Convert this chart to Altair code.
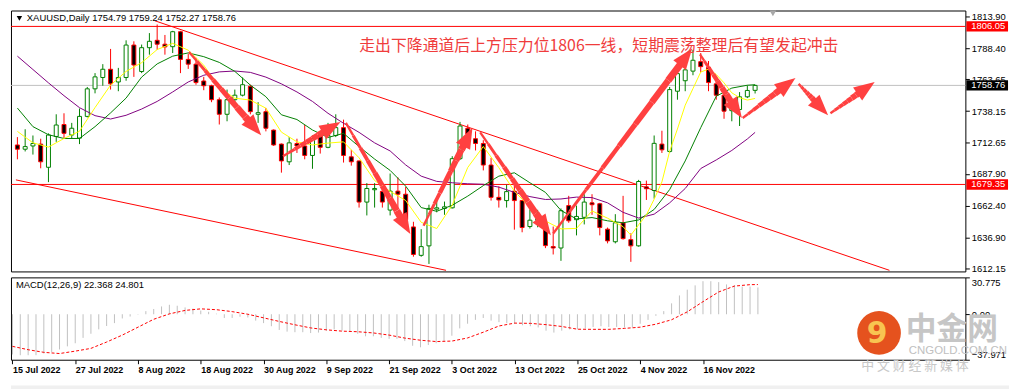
import math
import altair as alt
import pandas as pd

# ---------------- data ----------------
tick_dates = ["15 Jul 2022", "27 Jul 2022", "8 Aug 2022", "18 Aug 2022", "30 Aug 2022",
              "9 Sep 2022", "21 Sep 2022", "3 Oct 2022", "13 Oct 2022", "25 Oct 2022",
              "4 Nov 2022", "16 Nov 2022"]

opens = [1711.0, 1707.6, 1710.2, 1711.7, 1693.1, 1717.8, 1727.4, 1719.0, 1716.5, 1733.9,
         1756.0, 1765.1, 1771.7, 1761.5, 1765.1, 1791.1, 1769.9, 1789.0, 1794.9, 1791.8,
         1789.8, 1801.8, 1779.6, 1775.8, 1762.3, 1758.5, 1747.3, 1735.6, 1747.3, 1750.9,
         1758.0, 1735.6, 1737.7, 1722.9, 1711.7, 1697.5, 1712.2, 1710.2, 1702.6, 1718.6,
         1709.1, 1718.6, 1724.9, 1701.5, 1698.2, 1665.2, 1675.1, 1673.8, 1658.8, 1674.0,
         1671.5, 1645.3, 1622.5, 1630.1, 1659.5, 1660.1, 1660.6, 1700.0, 1724.4, 1716.0,
         1712.2, 1694.9, 1669.0, 1666.4, 1674.0, 1666.4, 1645.6, 1650.5, 1647.9, 1629.5,
         1628.4, 1662.4, 1651.1, 1653.0, 1664.6, 1663.9, 1643.5, 1633.4, 1648.6, 1635.1,
         1630.1, 1677.4, 1674.5, 1711.7, 1705.8, 1754.1, 1762.5, 1770.2, 1777.8, 1773.2,
         1760.0, 1750.9, 1738.5, 1739.4, 1749.6, 1754.79]
highs = [1717.3, 1723.6, 1718.6, 1716.0, 1720.3, 1735.6, 1736.4, 1728.7, 1740.2, 1757.5,
         1768.6, 1775.8, 1788.0, 1772.8, 1794.9, 1794.1, 1791.5, 1800.7, 1807.6, 1799.2,
         1802.5, 1802.5, 1783.9, 1780.9, 1765.6, 1759.3, 1749.1, 1755.4, 1755.4, 1765.1,
         1759.3, 1745.3, 1740.7, 1723.5, 1712.2, 1717.3, 1716.0, 1727.0, 1718.6, 1720.3,
         1728.7, 1735.6, 1731.3, 1707.1, 1698.5, 1680.4, 1680.4, 1677.1, 1688.1, 1685.0,
         1677.4, 1649.4, 1643.5, 1663.1, 1667.2, 1665.6, 1702.0, 1729.5, 1727.4, 1721.9,
         1714.8, 1700.7, 1677.8, 1679.1, 1679.1, 1666.9, 1659.3, 1659.0, 1652.4, 1645.6,
         1660.1, 1670.2, 1662.4, 1671.5, 1671.5, 1664.6, 1644.8, 1655.5, 1670.2, 1640.2,
         1683.0, 1682.4, 1718.6, 1722.4, 1757.5, 1774.5, 1774.5, 1787.3, 1784.7, 1778.3,
         1761.8, 1751.6, 1746.0, 1753.4, 1758.7, 1759.24]
lows = [1699.5, 1705.8, 1703.3, 1692.3, 1681.2, 1713.5, 1716.0, 1716.0, 1711.7, 1733.1,
        1752.4, 1758.5, 1755.4, 1754.1, 1762.5, 1765.6, 1768.6, 1783.4, 1787.3, 1783.4,
        1784.7, 1768.6, 1772.0, 1759.3, 1754.9, 1745.3, 1727.4, 1730.0, 1742.7, 1749.9,
        1735.6, 1728.7, 1721.9, 1710.2, 1688.8, 1694.9, 1704.6, 1699.5, 1691.9, 1704.1,
        1708.4, 1717.3, 1696.9, 1694.4, 1660.8, 1654.5, 1660.8, 1660.8, 1654.5, 1660.1,
        1647.3, 1621.4, 1621.4, 1615.6, 1657.0, 1655.0, 1660.1, 1699.0, 1716.0, 1706.6,
        1690.6, 1666.4, 1660.8, 1660.8, 1643.1, 1641.0, 1644.0, 1645.0, 1628.3, 1623.2,
        1618.1, 1648.6, 1638.5, 1647.3, 1655.0, 1638.5, 1632.1, 1632.1, 1635.1, 1617.3,
        1629.5, 1666.9, 1668.0, 1704.6, 1704.6, 1747.3, 1754.1, 1766.9, 1769.4, 1754.1,
        1747.3, 1732.0, 1730.0, 1726.2, 1748.6, 1752.27]
closes = [1707.6, 1709.7, 1712.2, 1697.5, 1719.0, 1727.0, 1720.3, 1724.4, 1733.9, 1756.0,
          1765.6, 1771.7, 1760.0, 1765.1, 1791.1, 1775.1, 1789.0, 1794.1, 1791.8, 1789.6,
          1801.8, 1779.6, 1775.8, 1761.0, 1758.5, 1747.3, 1735.6, 1747.3, 1750.9, 1759.3,
          1737.7, 1736.9, 1724.4, 1711.0, 1698.2, 1712.7, 1710.2, 1702.6, 1716.0, 1709.1,
          1718.6, 1724.9, 1702.6, 1697.5, 1665.2, 1676.1, 1676.1, 1665.2, 1674.0, 1671.5,
          1651.1, 1623.2, 1629.5, 1660.1, 1660.6, 1661.4, 1700.0, 1726.2, 1719.8, 1712.2,
          1694.9, 1669.0, 1666.9, 1673.6, 1666.4, 1644.8, 1650.7, 1652.0, 1630.3, 1628.4,
          1658.3, 1650.2, 1653.7, 1665.2, 1663.1, 1644.8, 1634.1, 1648.6, 1635.9, 1630.1,
          1681.7, 1675.9, 1712.3, 1707.1, 1755.4, 1768.2, 1771.2, 1778.9, 1773.8, 1761.0,
          1750.9, 1738.1, 1740.3, 1749.6, 1754.7, 1758.76]

# moving averages
ma_idx = list(range(0, 96, 2)) + [95]
ma_purple = [1782.2, 1771.5, 1760.8, 1750.5, 1740.9, 1734.5, 1731.8, 1734.8, 1739.8, 1745.9,
             1753.5, 1761.5, 1766.9, 1769.6, 1770.3, 1769.2, 1765.4, 1760.0, 1753.5, 1745.9,
             1736.4, 1728.4, 1721.1, 1712.7, 1706.2, 1695.0, 1686.0, 1681.8, 1680.7, 1679.9,
             1679.5, 1677.2, 1673.0, 1669.6, 1667.3, 1667.7, 1669.2, 1668.8, 1664.6, 1657.0,
             1652.4, 1655.5, 1664.6, 1676.1, 1692.1, 1699.0, 1706.6, 1715.8, 1721.1]
ma_green = [1740.6, 1725.7, 1719.2, 1716.2, 1716.2, 1725.7, 1736.7, 1748.6, 1765.4, 1776.0,
            1782.2, 1784.8, 1781.8, 1777.2, 1770.0, 1759.0, 1749.7, 1735.2, 1731.4, 1723.0,
            1717.0, 1720.3, 1709.7, 1699.7, 1690.6, 1678.0, 1660.8, 1657.8, 1662.7, 1670.0,
            1678.4, 1686.0, 1688.7, 1680.7, 1673.0, 1658.5, 1651.7, 1652.8, 1650.2, 1648.6,
            1650.9, 1659.3, 1675.3, 1698.2, 1724.9, 1750.1, 1756.6, 1758.9, 1759.3]
y_idx = list(range(0, 80, 2)) + list(range(79, 96))
ma_yellow = [1721.9, 1712.7, 1709.3, 1716.2, 1722.0, 1741.0, 1759.0, 1770.0, 1777.0, 1787.5,
             1792.5, 1787.0, 1775.0, 1757.0, 1748.5, 1747.0, 1740.5, 1721.3, 1713.5, 1711.0,
             1712.5, 1713.5, 1700.7, 1682.5, 1673.8, 1666.5, 1649.0, 1644.0, 1662.8, 1693.0,
             1709.8, 1692.8, 1674.0, 1661.0, 1650.0, 1643.7, 1644.1, 1658.1, 1652.3, 1645.5,
             1638.7, 1647.0, 1655.0, 1667.5, 1681.4, 1706.0, 1723.8, 1742.9, 1756.2, 1769.5,
             1771.8, 1767.5, 1760.8, 1752.8, 1749.0, 1747.0, 1748.3]

# MACD histogram (one per bar) and signal line
macd_hist = [-33.6, -34.2, -34.2, -34.2, -32.8, -31.5, -29.4, -26.8, -24.2, -19.7,
             -16.3, -12.6, -9.8, -7.4, -3.5, -1.9, -0.3, 2.6, 4.4, 6.5,
             7.9, 7.1, 5.7, 4.7, 3.1, 2.0, 0.5, -3.1, -3.1, -2.1,
             -2.7, -5.3, -7.4, -10.0, -13.1, -14.5, -15.0, -15.0, -15.7, -15.3,
             -13.7, -12.6, -13.7, -14.5, -16.3, -18.4, -18.4, -19.7, -20.5, -20.5,
             -22.4, -26.3, -27.6, -25.7, -24.2, -22.4, -17.9, -11.8, -7.9, -4.7,
             -3.1, -5.3, -6.6, -7.4, -7.9, -9.2, -10.0, -11.0, -13.7, -15.3,
             -13.7, -12.6, -12.6, -11.8, -10.6, -10.0, -10.6, -10.6, -11.0, -11.0,
             -7.9, -4.7, -1.3, 2.6, 9.1, 15.7, 20.5, 24.1, 27.6, 27.6,
             26.8, 24.9, 24.1, 23.1, 23.1, 22.368]
macd_signal = [-26.8, -29.6, -31.8, -32.8, -30.8, -28.5, -23.2, -17.4, -10.8, -4.2,
               0.3, 3.2, 4.5, 3.8, 2.2, 0.0, -3.0, -6.0, -8.8, -11.4,
               -13.0, -14.1, -14.6, -15.6, -17.4, -19.9, -21.7, -22.8, -22.4, -19.8,
               -15.0, -9.8, -7.4, -7.6, -8.7, -10.2, -12.5, -12.6, -12.6, -11.8,
               -10.8, -8.3, -4.6, 2.0, 10.5, 18.6, 23.5, 24.7, 24.8]

red_levels = [1806.05, 1679.35]
last_price = [1758.76]
price_ticks = [1813.90, 1788.40, 1763.65, 1738.15, 1712.65, 1687.90, 1662.40, 1636.90, 1612.15]
macd_ticks = [30.775, 0.0, -37.971]

chan_id = ["upper", "upper", "lower", "lower"]
chan_bar = [17.69, 112.3, -0.19, 55.2]
chan_price = [1810.6, 1610.5, 1683.0, 1610.5]

arrow_k0 = [22.1, 34.2, 42.3, 52.3, 59.6, 69.0, 87.9, 93.4, 100.6, 104.7]
arrow_p0 = [1785.5, 1702.0, 1728.7, 1646.3, 1721.1, 1640.0, 1783.7, 1732.6, 1760.0, 1736.4]
arrow_k1 = [31.4, 41.6, 50.6, 58.6, 68.7, 86.9, 93.3, 100.2, 104.4, 110.4]
arrow_p1 = [1718.8, 1729.5, 1639.6, 1724.9, 1638.7, 1788.3, 1732.6, 1764.6, 1734.8, 1761.5]

title_text = ["XAUUSD,Daily  1754.79 1759.24 1752.27 1758.76"]
note_text = ["走出下降通道后上方压力位1806一线，短期震荡整理后有望发起冲击"]
macd_text = ["MACD(12,26,9) 22.368 24.801"]

# ---------------- layout ----------------
W, H1, H2 = 962, 263, 83
XDOM = [-0.1875, 121.44]
PDOM = [1609.6, 1818.8]
MDOM = [-37.971, 30.775]
FONT = "Liberation Sans"
ARROW = "#ff4040"

xs = alt.Scale(domain=XDOM, nice=False, zero=False)
ps = alt.Scale(domain=PDOM, nice=False, zero=False)
ms = alt.Scale(domain=MDOM, nice=False, zero=False)

candles = pd.DataFrame({"bar": list(range(len(closes))), "open": opens, "high": highs,
                        "low": lows, "close": closes})
up = "datum.close >= datum.open"

price_axis = alt.Axis(orient="right", values=price_ticks, format=".2f", tickSize=4,
                      tickColor="black", domain=False, grid=False, labelFont=FONT,
                      labelFontSize=9.5, labelColor="black", labelPadding=2, title=None,
                      labelFlush=False, labelOverlap=False)

base = alt.Chart(candles)
wicks = base.mark_rule(clip=True, strokeWidth=1).encode(
    x=alt.X("bar:Q", scale=xs, axis=None),
    y=alt.Y("low:Q", scale=ps, axis=price_axis),
    y2=alt.Y2("high"),
    color=alt.condition(up, alt.value("#008000"), alt.value("#ff0000")),
)
bodies = base.mark_bar(clip=True, size=4, strokeWidth=1).encode(
    x=alt.X("bar:Q", scale=xs, axis=None),
    y=alt.Y("open:Q", scale=ps, axis=price_axis),
    y2=alt.Y2("close"),
    fill=alt.condition(up, alt.value("white"), alt.value("black")),
    stroke=alt.condition(up, alt.value("#008000"), alt.value("#ff0000")),
)

hl_red = alt.Chart(pd.DataFrame({"v": red_levels})).mark_rule(color="#ff0000", strokeWidth=1).encode(
    y=alt.Y("v:Q", scale=ps, axis=price_axis))
hl_gray = alt.Chart(pd.DataFrame({"v": last_price})).mark_rule(color="#c0c0c0", strokeWidth=1).encode(
    y=alt.Y("v:Q", scale=ps, axis=price_axis))

chan = alt.Chart(pd.DataFrame({"id": chan_id, "bar": chan_bar, "price": chan_price})).mark_line(
    clip=True, color="#ff0000", strokeWidth=1).encode(
    x=alt.X("bar:Q", scale=xs, axis=None), y=alt.Y("price:Q", scale=ps, axis=price_axis),
    detail="id:N")


def ma_layer(idx, vals, color):
    return alt.Chart(pd.DataFrame({"bar": idx, "v": vals})).mark_line(
        clip=True, color=color, strokeWidth=1).encode(
        x=alt.X("bar:Q", scale=xs, axis=None), y=alt.Y("v:Q", scale=ps, axis=price_axis))


purple = ma_layer(ma_idx, ma_purple, "#800080")
green = ma_layer(ma_idx, ma_green, "#008000")
yellow = ma_layer(y_idx, ma_yellow, "#ffff00")

# arrows: tapered shaft made of short segments + rotated triangular head
pxk = W / (XDOM[1] - XDOM[0])
pxp = H1 / (PDOM[1] - PDOM[0])
HEAD = 21
NSEG = 8
seg_rows, head_rows = [], []
for i, (a, b, c, d) in enumerate(zip(arrow_k0, arrow_p0, arrow_k1, arrow_p1)):
    dx = (c - a) * pxk
    dy = (d - b) * pxp
    L = math.hypot(dx, dy)
    ang = math.degrees(math.atan2(dx, dy)) % 360
    back = HEAD * 0.6
    ek = c - (dx / L) * back / pxk
    ep = d - (dy / L) * back / pxp
    for s in range(NSEG):
        t0, t1 = s / NSEG, (s + 1) / NSEG
        seg_rows.append({"bar": a + (ek - a) * t0, "price": b + (ep - b) * t0,
                         "bar2": a + (ek - a) * t1, "price2": b + (ep - b) * t1,
                         "w": 2.0 + 5.5 * (s + 0.5) / NSEG})
    head_rows.append({"bar": c, "price": d, "angle": ang})

shafts = alt.Chart(pd.DataFrame(seg_rows)).mark_rule(color=ARROW).encode(
    x=alt.X("bar:Q", scale=xs, axis=None), y=alt.Y("price:Q", scale=ps, axis=price_axis),
    x2="bar2:Q", y2="price2:Q",
    strokeWidth=alt.StrokeWidth("w:Q", scale=None, legend=None))
heads = alt.Chart(pd.DataFrame(head_rows)).mark_point(
    shape="M0,0L0.76,2L-0.76,2Z", filled=True, size=HEAD * HEAD, opacity=1,
    color=ARROW, strokeWidth=0).encode(
    x=alt.X("bar:Q", scale=xs, axis=None), y=alt.Y("price:Q", scale=ps, axis=price_axis),
    angle=alt.Angle("angle:Q", scale=None))

title = alt.Chart(pd.DataFrame({"t": title_text})).mark_text(
    align="left", baseline="middle", font=FONT, fontSize=9.5, color="black").encode(
    x=alt.value(16), y=alt.value(8), text="t:N")
tri = alt.Chart(pd.DataFrame({"t": title_text})).mark_point(
    shape="triangle-down", filled=True, size=30, color="black", opacity=1).encode(
    x=alt.value(8.5), y=alt.value(8))
shift_mark = alt.Chart(pd.DataFrame({"t": title_text})).mark_point(
    shape="triangle-down", filled=True, size=45, color="#a8a8a8", opacity=1).encode(
    x=alt.value(768), y=alt.value(3))
note = alt.Chart(pd.DataFrame({"t": note_text})).mark_text(
    align="left", baseline="middle", font="Noto Sans CJK SC", fontSize=16, color="#f03c3c").encode(
    x=alt.value(351), y=alt.value(36), text="t:N")

BOX = "M-1,-0.25L1,-0.25L1,0.25L-1,0.25Z"
box_red = alt.Chart(pd.DataFrame({"v": red_levels})).mark_point(
    shape=BOX, filled=True, size=42 * 42, color="#ff0000", opacity=1, strokeWidth=0).encode(
    x=alt.value(W + 22), y=alt.Y("v:Q", scale=ps, axis=price_axis))
box_blk = alt.Chart(pd.DataFrame({"v": last_price})).mark_point(
    shape=BOX, filled=True, size=42 * 42, color="black", opacity=1, strokeWidth=0).encode(
    x=alt.value(W + 22), y=alt.Y("v:Q", scale=ps, axis=price_axis))
box_txt = alt.Chart(pd.DataFrame({"v": red_levels + last_price})).mark_text(
    align="left", baseline="middle", font=FONT, fontSize=9.5, color="white").encode(
    x=alt.value(W + 6), y=alt.Y("v:Q", scale=ps, axis=price_axis),
    text=alt.Text("v:Q", format=".2f"))

price_chart = alt.layer(
    hl_gray, hl_red, chan, wicks, bodies, purple, green, yellow,
    shafts, heads, title, tri, shift_mark, note, box_red, box_blk, box_txt
).properties(width=W, height=H1)

# ---------------- MACD pane ----------------
label_expr = "[" + ",".join("'%s'" % d for d in tick_dates) + "][round(datum.value/8)]"
x_axis = alt.Axis(orient="bottom", values=list(range(0, 96, 8)), labelExpr=label_expr,
                  labelAlign="left", labelBaseline="top", labelFont=FONT, labelFontSize=9,
                  labelFontWeight="bold", labelColor="black", tickSize=4, tickColor="black",
                  domain=False, grid=False, title=None, labelFlush=False, labelOverlap=False,
                  labelPadding=2)
macd_axis = alt.Axis(orient="right", values=macd_ticks,
                     labelExpr="datum.value == 0 ? '0.00' : format(datum.value, '.3f')",
                     tickSize=4, tickColor="black", domain=False, grid=False, labelFont=FONT,
                     labelFontSize=9.5, labelColor="black", labelPadding=2, title=None,
                     labelFlush=True, labelOverlap=False)

hist = alt.Chart(pd.DataFrame({"bar": list(range(len(macd_hist))), "h": macd_hist,
                               "z": [0.0] * len(macd_hist)})).mark_rule(
    clip=True, color="#c0c0c0", strokeWidth=1).encode(
    x=alt.X("bar:Q", scale=xs, axis=x_axis),
    y=alt.Y("h:Q", scale=ms, axis=macd_axis),
    y2=alt.Y2("z"))
sig = alt.Chart(pd.DataFrame({"bar": ma_idx, "s": macd_signal})).mark_line(
    clip=True, color="#ff0000", strokeWidth=1, strokeDash=[3, 2]).encode(
    x=alt.X("bar:Q", scale=xs, axis=x_axis), y=alt.Y("s:Q", scale=ms, axis=macd_axis))
mlabel = alt.Chart(pd.DataFrame({"t": macd_text})).mark_text(
    align="left", baseline="middle", font=FONT, fontSize=9.5, color="black").encode(
    x=alt.value(5), y=alt.value(8), text="t:N")

wm = pd.DataFrame({"t": ["中金网"]})
logo = alt.Chart(wm).mark_point(shape="circle", filled=True, size=1936, color="#e5521e",
                                opacity=1, strokeWidth=0).encode(x=alt.value(875), y=alt.value(56))
logo_in = alt.Chart(pd.DataFrame({"t": ["9"]})).mark_text(
    font="DejaVu Sans", fontSize=30, fontWeight="bold", color="#f8c451",
    align="center", baseline="middle").encode(x=alt.value(873), y=alt.value(57), text="t:N")
wm_big = alt.Chart(wm).mark_text(font="Noto Sans CJK SC", fontSize=31, fontWeight="bold",
                                 color="#c6c6c6", align="left", baseline="middle").encode(
    x=alt.value(902), y=alt.value(53), text="t:N")
wm_url = alt.Chart(pd.DataFrame({"t": ["CNGOLD.COM.CN"]})).mark_text(
    font=FONT, fontSize=11.5, color="#c0c0c0", align="left", baseline="middle").encode(
    x=alt.value(905), y=alt.value(74), text="t:N")
wm_sub = alt.Chart(pd.DataFrame({"t": ["中   文   财   经   新   媒   体"]})).mark_text(
    font="Noto Sans CJK SC", fontSize=13, color="#c8c8c8", align="left", baseline="middle").encode(
    x=alt.value(857), y=alt.value(89), text="t:N")
strip = alt.Chart(pd.DataFrame({"t": ["strip"]})).mark_rule(
    color="#f0f0f0", strokeWidth=5).encode(
    x=alt.value(0), x2=alt.value(1006), y=alt.value(111.5))

macd_chart = alt.layer(
    strip, hist, sig, mlabel, logo, logo_in, wm_big, wm_url, wm_sub
).properties(width=W, height=H2)

chart = alt.vconcat(price_chart, macd_chart, spacing=3).properties(
    padding=0, background="white"
).configure_view(stroke="black", strokeWidth=1)

chart.save("out.html", embed_options={"renderer": "svg", "actions": False})
